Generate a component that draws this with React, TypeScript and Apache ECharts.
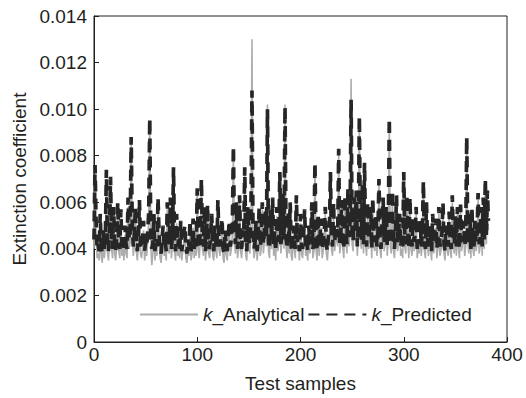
import React, { useEffect, useRef } from "react";
import * as echarts from "echarts";

// values in units of 1e-4 (extinction coefficient), sample index = position
const analyticalE4 = [
  40, 72, 48, 36, 38, 35, 50, 37, 34, 44,
  36, 41, 70, 39, 35, 43, 68, 40, 36, 54,
  38, 35, 42, 57, 39, 36, 53, 37, 41, 35,
  46, 38, 36, 58, 40, 43, 86, 48, 37, 41,
  55, 39, 35, 43, 58, 38, 36, 40, 48, 35,
  39, 37, 43, 52, 94, 41, 33, 38, 51, 35,
  40, 37, 59, 43, 36, 34, 41, 46, 37, 39,
  35, 57, 40, 38, 58, 36, 42, 73, 39, 35,
  51, 37, 40, 36, 48, 35, 39, 43, 46, 36,
  34, 40, 37, 48, 35, 38, 49, 36, 41, 37,
  63, 39, 36, 44, 68, 40, 37, 54, 35, 41,
  56, 38, 36, 43, 51, 37, 35, 46, 39, 36,
  58, 40, 37, 43, 49, 36, 34, 44, 38, 35,
  41, 48, 37, 40, 46, 82, 43, 38, 57, 36,
  40, 60, 39, 36, 44, 41, 73, 37, 35, 54,
  40, 38, 51, 130, 43, 36, 39, 48, 35, 41,
  55, 37, 40, 57, 38, 43, 52, 41, 102, 39,
  36, 53, 40, 59, 37, 44, 35, 54, 39, 42,
  70, 38, 43, 61, 40, 102, 41, 36, 52, 38,
  57, 37, 35, 46, 40, 36, 60, 39, 42, 35,
  51, 38, 36, 43, 54, 37, 40, 35, 46, 38,
  41, 57, 36, 39, 75, 40, 35, 51, 37, 42,
  49, 36, 39, 43, 55, 38, 35, 41, 44, 71,
  40, 37, 57, 39, 43, 46, 41, 81, 38, 42,
  58, 40, 36, 60, 44, 38, 63, 41, 48, 113,
  42, 39, 59, 44, 62, 37, 46, 95, 43, 40,
  65, 38, 75, 42, 37, 57, 40, 45, 55, 36,
  59, 41, 39, 51, 37, 43, 68, 40, 36, 48,
  59, 39, 42, 55, 37, 44, 94, 41, 38, 62,
  40, 36, 44, 60, 39, 42, 51, 37, 40, 36,
  71, 41, 38, 60, 43, 36, 59, 40, 37, 49,
  39, 42, 55, 36, 40, 38, 48, 37, 43, 66,
  39, 36, 57, 41, 37, 46, 40, 35, 52, 38,
  42, 49, 36, 40, 55, 37, 39, 43, 57, 38,
  35, 46, 40, 37, 53, 39, 36, 60, 41, 38,
  50, 37, 55, 40, 36, 56, 39, 42, 48, 37,
  41, 86, 43, 38, 51, 36, 55, 40, 37, 48,
  39, 42, 61, 38, 41, 54, 37, 59, 40, 68,
  42, 62, 48,
];

const predictedE4 = [
  44, 76, 52, 40, 42, 39, 55, 41, 38, 48,
  40, 45, 74, 43, 39, 47, 71, 44, 40, 58,
  42, 39, 46, 60, 43, 40, 57, 41, 45, 39,
  50, 42, 40, 62, 44, 47, 88, 52, 41, 45,
  58, 43, 39, 47, 61, 42, 40, 44, 52, 39,
  43, 41, 47, 56, 96, 45, 40, 42, 55, 39,
  44, 41, 62, 47, 40, 38, 45, 50, 41, 43,
  39, 60, 44, 42, 62, 40, 46, 75, 43, 39,
  55, 41, 44, 40, 52, 39, 43, 47, 50, 40,
  38, 44, 41, 52, 39, 42, 53, 40, 45, 41,
  66, 43, 40, 48, 70, 44, 41, 58, 39, 45,
  59, 42, 40, 47, 55, 41, 39, 50, 43, 40,
  61, 44, 41, 47, 53, 40, 38, 48, 42, 39,
  45, 52, 41, 44, 50, 84, 47, 42, 60, 40,
  44, 63, 43, 40, 48, 45, 75, 41, 39, 58,
  44, 42, 55, 108, 47, 40, 43, 52, 39, 45,
  58, 41, 44, 60, 42, 47, 56, 45, 100, 43,
  40, 57, 44, 62, 41, 48, 39, 58, 43, 46,
  73, 42, 47, 64, 44, 101, 45, 40, 56, 42,
  60, 41, 39, 50, 44, 40, 63, 43, 46, 39,
  55, 42, 40, 47, 57, 41, 44, 39, 50, 42,
  45, 60, 40, 43, 77, 44, 39, 55, 41, 46,
  53, 40, 43, 47, 58, 42, 39, 45, 48, 73,
  44, 41, 60, 43, 47, 50, 45, 83, 42, 46,
  61, 44, 40, 63, 48, 42, 66, 45, 52, 104,
  46, 43, 62, 48, 65, 41, 50, 97, 47, 44,
  68, 42, 77, 46, 41, 60, 44, 49, 58, 40,
  62, 45, 43, 55, 41, 47, 70, 44, 40, 52,
  62, 43, 46, 58, 41, 48, 96, 45, 42, 65,
  44, 40, 48, 63, 43, 46, 55, 41, 44, 40,
  73, 45, 42, 63, 47, 40, 62, 44, 41, 53,
  43, 46, 58, 40, 44, 42, 52, 41, 47, 69,
  43, 40, 60, 45, 41, 50, 44, 39, 55, 42,
  46, 53, 40, 44, 58, 41, 43, 47, 60, 42,
  39, 50, 44, 41, 56, 43, 40, 63, 45, 42,
  54, 41, 58, 44, 40, 59, 43, 46, 52, 41,
  45, 88, 47, 42, 55, 40, 58, 44, 41, 52,
  43, 46, 64, 42, 45, 58, 41, 62, 44, 70,
  46, 65, 52,
];

const seriesNames = ["k_Analytical", "k_Predicted"];
const xTicks = [0, 100, 200, 300, 400];
const yTicks = [0, 0.002, 0.004, 0.006, 0.008, 0.01, 0.012, 0.014];

const FONT = "'Liberation Sans', Arial, Helvetica, sans-serif";
const TXT = "#231f20";

export default function App() {
  const ref = useRef<HTMLDivElement>(null);
  useEffect(() => {
    if (!ref.current) return;
    const chart = echarts.init(ref.current, undefined, { renderer: "svg" });
    const toPairs = (arr: number[]) => arr.map((v, i) => [i, v / 10000]);
    chart.setOption({
      animation: false,
      backgroundColor: "#ffffff",
      textStyle: { fontFamily: FONT, color: TXT },
      grid: {
        left: 94,
        right: 19,
        top: 16,
        bottom: 53,
        show: true,
        borderColor: TXT,
        borderWidth: 1,
        containLabel: false,
      },
      legend: {
        left: 134,
        top: 300,
        itemWidth: 58,
        itemHeight: 14,
        itemGap: 3,
        data: seriesNames,
        itemStyle: { opacity: 0, borderWidth: 0 },
        formatter: (name: string) => "{it|" + name.slice(0, 1) + "}" + name.slice(1),
        textStyle: {
          fontFamily: FONT,
          fontSize: 19,
          color: TXT,
          rich: {
            it: { fontStyle: "italic", fontSize: 19, fontFamily: FONT, color: TXT },
          },
        },
      },
      xAxis: {
        type: "value",
        min: xTicks[0],
        max: xTicks[xTicks.length - 1],
        interval: 100,
        name: "Test samples",
        nameLocation: "middle",
        nameGap: 32,
        nameTextStyle: { fontSize: 19, color: TXT, fontFamily: FONT },
        axisLine: { show: true, lineStyle: { color: TXT, width: 1 } },
        axisTick: { show: true, inside: true, length: 5, lineStyle: { color: TXT } },
        axisLabel: { fontSize: 19, color: TXT, fontFamily: FONT, margin: 3 },
        splitLine: { show: false },
      },
      yAxis: {
        type: "value",
        min: yTicks[0],
        max: yTicks[yTicks.length - 1],
        interval: 0.002,
        name: "Extinction coefficient",
        nameLocation: "middle",
        nameGap: 62,
        nameTextStyle: { fontSize: 19, color: TXT, fontFamily: FONT },
        axisLine: { show: true, lineStyle: { color: TXT, width: 1 } },
        axisTick: { show: true, inside: true, length: 5, lineStyle: { color: TXT } },
        axisLabel: {
          fontSize: 19,
          color: TXT,
          fontFamily: FONT,
          margin: 7,
          formatter: (v: number) => (v === 0 ? "0" : v.toFixed(3)),
        },
        splitLine: { show: false },
      },
      series: [
        {
          name: seriesNames[0],
          type: "line",
          data: toPairs(analyticalE4),
          showSymbol: false,
          symbol: "none",
          color: "#adadad",
          lineStyle: { color: "#adadad", width: 1.6 },
          z: 2,
        },
        {
          name: seriesNames[1],
          type: "line",
          data: toPairs(predictedE4),
          showSymbol: false,
          symbol: "none",
          color: "#262626",
          lineStyle: { color: "#262626", width: 3.7, type: [11, 7] },
          z: 3,
        },
      ],
    });
    return () => chart.dispose();
  }, []);
  return (
    <div
      ref={ref}
      style={{ position: "fixed", left: 0, top: 0, width: 526, height: 398, background: "#fff" }}
    />
  );
}
